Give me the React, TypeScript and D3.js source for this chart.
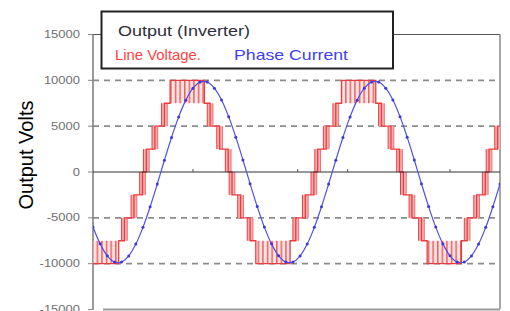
import React from 'react';
import * as d3 from 'd3';

// phase current, sampled every 15 degrees from 0 to 855
const currentStep = 15;
const currentValues = [
  -6010, -7840, -9140, -9810, -9820, -9150, -7860, -6040, -3800, -1310, 1280, 3770,
  6010, 7840, 9140, 9810, 9820, 9150, 7860, 6040, 3800, 1310, -1280, -3770,
  -6010, -7840, -9140, -9810, -9820, -9150, -7860, -6040, -3800, -1310, 1280, 3770,
  6010, 7840, 9140, 9810, 9820, 9150, 7860, 6040, 3800, 1310, -1280, -3770,
  -6010, -7840, -9140, -9810, -9820, -9150, -7860, -6040, -3800, -1310,
];

// line voltage staircase: [angle, level from that angle on]
const voltageSteps: [number, number][] = [
  [0, -10000], [54, -7500], [66, -5000], [86, -2500], [104, 0], [112, 2500], [130, 5000], [150, 7500],
  [162, 10000], [234, 7500], [246, 5000], [266, 2500], [284, 0], [292, -2500], [310, -5000], [330, -7500],
  [342, -10000], [414, -7500], [426, -5000], [446, -2500], [464, 0], [472, 2500], [490, 5000], [510, 7500],
  [522, 10000], [594, 7500], [606, 5000], [626, 2500], [644, 0], [652, -2500], [670, -5000], [690, -7500],
  [702, -10000], [774, -7500], [786, -5000], [806, -2500], [824, 0], [832, 2500], [850, 5000], [855, 5000],
];

// PWM chatter near the peaks: [from, to, level a, level b]
const peakBands: [number, number, number, number][] = [
  [0, 54, -10000, -7500],
  [162, 234, 7500, 10000],
  [342, 414, -10000, -7500],
  [522, 594, 7500, 10000],
  [702, 774, -10000, -7500],
];

const yTicks = [15000, 10000, 5000, 0, -5000, -10000, -15000];
const gridValues = [10000, 5000, -5000, -10000];
const xTicks = [210, 430, 535, 750];

const W = 510;
const H = 311;

export default function App() {
  const x = d3.scaleLinear().domain([0, 855]).range([93, 500]);
  const y = d3.scaleLinear().domain([-15000, 15000]).range([309.5, 34.5]);

  const currentPts = currentValues.map((v, i) => [i * currentStep, v] as [number, number]);
  const currentLine = d3
    .line<[number, number]>()
    .x((d) => x(d[0]))
    .y((d) => y(d[1]))
    .curve(d3.curveCatmullRom)(currentPts);

  const voltLine = d3
    .line<[number, number]>()
    .x((d) => x(d[0]))
    .y((d) => y(d[1]))
    .curve(d3.curveStepAfter)(voltageSteps);

  // small transition bands around every 2500 V step (not the ones into the peak chatter)
  const steps: { at: number; from: number; to: number }[] = [];
  for (let i = 1; i < voltageSteps.length; i++) {
    const from = voltageSteps[i - 1][1];
    const [at, to] = voltageSteps[i];
    if (from === to || Math.abs(from) === 10000 || Math.abs(to) === 10000) continue;
    steps.push({ at, from, to });
  }

  const red = '#ea3c40';
  const blue = '#5050ea';

  return (
    <svg width={W} height={H} style={{ position: 'absolute', left: 0, top: 0, background: '#fff' }}
      fontFamily="'Liberation Sans', Arial, sans-serif">
      <defs>
        <pattern id="hatch" width={4.6} height={10} patternUnits="userSpaceOnUse">
          <rect width={4.6} height={10} fill="#fde4e4" />
          <rect x={0} width={1.5} height={10} fill="#ee6060" />
        </pattern>
        <clipPath id="plot">
          <rect x={93} y={34} width={407} height={276} />
        </clipPath>
      </defs>

      {/* frame */}
      <line x1={93} x2={500} y1={y(15000)} y2={y(15000)} stroke="#555" strokeWidth={1} />
      <line x1={500} x2={500} y1={y(15000)} y2={309} stroke="#8a8a8a" strokeWidth={1.5} />
      <line x1={103} x2={500} y1={309.5} y2={309.5} stroke="#999" strokeWidth={2} />

      {/* dashed grid */}
      {gridValues.map((v) => (
        <line key={v} x1={93} x2={500} y1={y(v)} y2={y(v)} stroke="#8c8c8c" strokeWidth={1.6}
          strokeDasharray="6,5" />
      ))}

      {/* y axis */}
      <line x1={93} x2={93} y1={y(15000)} y2={310} stroke="#7a7a7a" strokeWidth={1.5} />
      {yTicks.map((v) => (
        <g key={v}>
          <line x1={88} x2={93} y1={y(v)} y2={y(v)} stroke="#888" strokeWidth={1} />
          <text transform={`translate(80,${y(v) + 3.5}) scale(1.3,1)`} textAnchor="end" fontSize={10}
            fill="#707070">{v}</text>
        </g>
      ))}

      <g clipPath="url(#plot)">
        {/* voltage: peak chatter */}
        {peakBands.map(([a, b, l1, l2], i) => (
          <rect key={i} x={x(a)} width={x(b) - x(a)} y={y(Math.max(l1, l2))}
            height={y(Math.min(l1, l2)) - y(Math.max(l1, l2))} fill="url(#hatch)" />
        ))}
        {/* voltage: step transition bands */}
        {steps.map((s, i) => {
          const hi = Math.max(s.from, s.to);
          const lo = Math.min(s.from, s.to);
          const x0 = x(s.at - 6);
          const x1 = x(s.at + 6);
          return (
            <g key={i}>
              <rect x={x0} width={x1 - x0} y={y(hi)} height={y(lo) - y(hi)} fill="#f8b0b0" />
              <line x1={x0} x2={x0} y1={y(hi)} y2={y(lo)} stroke={red} strokeWidth={1} />
              <line x1={x1} x2={x1} y1={y(hi)} y2={y(lo)} stroke="#f07070" strokeWidth={1} />
            </g>
          );
        })}
        <path d={voltLine ?? ''} fill="none" stroke={red} strokeWidth={1.3} />
      </g>

      {/* zero line */}
      <line x1={93} x2={500} y1={y(0)} y2={y(0)} stroke="#333" strokeWidth={1.1} />
      {xTicks.map((t) => (
        <line key={t} x1={x(t)} x2={x(t)} y1={y(0) - 3} y2={y(0)} stroke="#555" strokeWidth={1} />
      ))}

      {/* phase current */}
      <g clipPath="url(#plot)">
        <path d={currentLine ?? ''} fill="none" stroke={blue} strokeWidth={1.2} />
        {currentPts.map((d, i) => (
          <circle key={i} cx={x(d[0])} cy={y(d[1])} r={1.5} fill="#3a3ad0" />
        ))}
      </g>

      {/* legend */}
      <rect x={101.5} y={11.5} width={291.5} height={57} fill="#fff" stroke="#222" strokeWidth={2} />
      <text x={118} y={36} fontSize={15} fill="#2e2e3a" textLength={132} lengthAdjust="spacingAndGlyphs">
        Output (Inverter)
      </text>
      <text x={115} y={60} fontSize={15} fill="#ff4444" textLength={86} lengthAdjust="spacingAndGlyphs">
        Line Voltage.
      </text>
      <text x={234} y={60} fontSize={15} fill="#4040f0" textLength={114} lengthAdjust="spacingAndGlyphs">
        Phase Current
      </text>

      {/* axis title */}
      <text transform="translate(33,155) rotate(-90)" textAnchor="middle" fontSize={20} fill="#000">
        Output Volts
      </text>
    </svg>
  );
}
